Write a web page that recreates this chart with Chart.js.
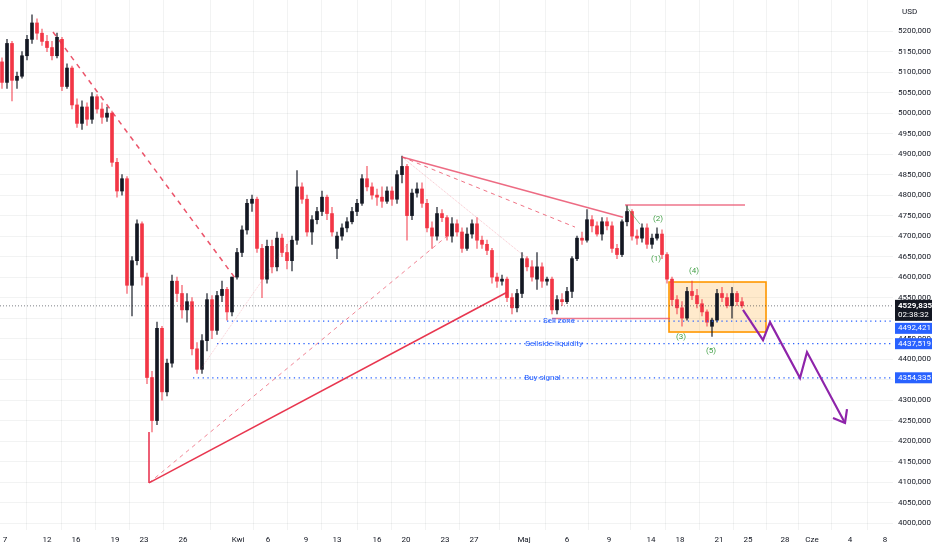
<!DOCTYPE html>
<html>
<head>
<meta charset="utf-8">
<script src="https://cdn.jsdelivr.net/npm/chart.js@4.4.1/dist/chart.umd.min.js"></script>
<style>
  html, body { margin: 0; padding: 0; background: #fff; }
  #wrap { width: 932px; height: 550px; }
</style>
</head>
<body>
<div id="wrap"><canvas id="chart" width="932" height="550"></canvas></div>
<script>
// candles, one per slot (x = slot index)
const opens = [
  5125, 5075, 5170, 5080, 5090, 5140, 5180, 5220, 5195, 5175,
  5160, 5140, 5180, 5065, 5110, 5020, 4975, 5015, 4985, 5040,
  5010, 4990, 5000, 4880, 4810, 4840, 4580, 4640, 4730, 4600,
  4355, 4250, 4475, 4320, 4390, 4590, 4560, 4520, 4540, 4425,
  4375, 4445, 4545, 4470, 4555, 4570, 4515, 4600, 4660, 4715,
  4780, 4790, 4670, 4595, 4675, 4625, 4695, 4660, 4640, 4690,
  4820, 4790, 4710, 4740, 4760, 4795, 4755, 4670, 4700, 4720,
  4735, 4760, 4780, 4840, 4820, 4800, 4795, 4785, 4810, 4790,
  4850, 4870, 4750, 4805, 4815, 4780, 4720, 4700, 4755, 4745,
  4700, 4730, 4710, 4670, 4705, 4730, 4690, 4680, 4665, 4600,
  4590, 4595, 4550, 4525, 4560, 4645, 4625, 4595, 4625, 4590,
  4595, 4520, 4545, 4540, 4565, 4645, 4695, 4690, 4740, 4725,
  4705, 4735, 4725, 4670, 4655, 4735, 4760, 4700, 4695, 4720,
  4680, 4695, 4705, 4655, 4595, 4545, 4525, 4500, 4565, 4555,
  4535, 4515, 4480, 4495, 4560, 4550, 4530, 4560, 4540
];
const highs = [
  5135, 5180, 5175, 5100, 5150, 5190, 5240, 5230, 5205, 5190,
  5175, 5195, 5185, 5120, 5115, 5035, 5030, 5025, 5050, 5045,
  5025, 5015, 5005, 4890, 4850, 4845, 4650, 4740, 4735, 4610,
  4370, 4490, 4480, 4400, 4605, 4600, 4580, 4560, 4550, 4440,
  4460, 4560, 4555, 4565, 4590, 4575, 4600, 4670, 4725, 4790,
  4800, 4795, 4680, 4690, 4690, 4710, 4705, 4680, 4700, 4860,
  4830, 4800, 4750, 4770, 4810, 4800, 4770, 4710, 4730, 4745,
  4770, 4790, 4850, 4870, 4830, 4815, 4820, 4820, 4820, 4860,
  4895, 4875, 4815, 4830, 4830, 4790, 4735, 4770, 4765, 4750,
  4745, 4740, 4720, 4720, 4740, 4745, 4700, 4690, 4670, 4610,
  4605, 4600, 4560, 4570, 4660, 4650, 4640, 4660, 4635, 4600,
  4600, 4555, 4560, 4575, 4650, 4700, 4710, 4765, 4750, 4735,
  4745, 4745, 4735, 4680, 4740, 4775, 4765, 4715, 4730, 4730,
  4705, 4720, 4715, 4660, 4600, 4555, 4540, 4575, 4590, 4570,
  4545, 4520, 4500, 4570, 4575, 4560, 4575, 4565, 4550
];
const lows = [
  5060, 5060, 5030, 5060, 5085, 5130, 5170, 5180, 5165, 5150,
  5130, 5135, 5055, 5060, 5010, 4965, 4960, 4970, 4975, 5000,
  4975, 4980, 4870, 4795, 4800, 4560, 4505, 4630, 4580, 4340,
  4222, 4240, 4300, 4310, 4380, 4540, 4500, 4490, 4410, 4365,
  4365, 4420, 4450, 4460, 4540, 4495, 4505, 4595, 4650, 4705,
  4760, 4660, 4550, 4585, 4610, 4615, 4650, 4620, 4615, 4680,
  4780, 4700, 4680, 4730, 4750, 4740, 4700, 4645, 4690, 4710,
  4730, 4750, 4775, 4810, 4790, 4775, 4770, 4780, 4775, 4780,
  4830, 4690, 4740, 4795, 4770, 4710, 4670, 4690, 4735, 4690,
  4685, 4700, 4660, 4665, 4695, 4670, 4670, 4655, 4585, 4575,
  4580, 4540, 4510, 4515, 4550, 4615, 4590, 4570, 4575, 4580,
  4510, 4510, 4530, 4535, 4550, 4640, 4680, 4685, 4710, 4700,
  4690, 4715, 4660, 4645, 4650, 4725, 4690, 4680, 4685, 4670,
  4670, 4690, 4645, 4585, 4530, 4510, 4480, 4495, 4545, 4525,
  4505, 4480, 4455, 4490, 4540, 4525, 4500, 4530, 4525
];
const closes = [
  5075, 5170, 5080, 5090, 5140, 5180, 5220, 5195, 5175, 5160,
  5140, 5185, 5065, 5110, 5020, 4975, 5015, 4985, 5040, 5010,
  4990, 5000, 4880, 4810, 4840, 4580, 4640, 4730, 4600, 4355,
  4250, 4475, 4320, 4390, 4590, 4560, 4520, 4540, 4425, 4375,
  4445, 4545, 4470, 4555, 4570, 4515, 4600, 4660, 4715, 4780,
  4790, 4670, 4595, 4675, 4625, 4695, 4660, 4640, 4690, 4820,
  4790, 4710, 4740, 4760, 4795, 4755, 4710, 4700, 4720, 4735,
  4760, 4780, 4840, 4820, 4800, 4795, 4785, 4810, 4790, 4850,
  4870, 4750, 4805, 4815, 4780, 4720, 4700, 4755, 4745, 4700,
  4730, 4710, 4670, 4705, 4730, 4690, 4680, 4665, 4600, 4590,
  4595, 4550, 4525, 4560, 4645, 4625, 4600, 4625, 4590, 4595,
  4520, 4545, 4540, 4565, 4645, 4695, 4690, 4740, 4725, 4705,
  4735, 4725, 4670, 4655, 4735, 4760, 4700, 4695, 4720, 4680,
  4695, 4705, 4655, 4595, 4545, 4525, 4500, 4565, 4555, 4535,
  4515, 4490, 4495, 4560, 4550, 4530, 4560, 4540, 4530
];
const lastPrice = 4529.835;
const countdown = '02:38:32';

// axis labels
const dateLabels = ['7', '12', '16', '19', '23', '26', 'Kwi', '6', '9', '13', '16', '20', '23',
  '27', 'Maj', '6', '9', '14', '18', '21', '25', '28', 'Cze', '4', '8'];
const datePos = [0.6, 9, 14.8, 22.6, 28.4, 36.2, 47.2, 53.2, 60.8, 67, 75, 80.8, 88.6,
  94.4, 104.4, 113, 121.4, 129.8, 135.6, 143.4, 149.2, 156.6, 162, 169.6, 176.6];
const priceTicks = [4000, 4050, 4100, 4150, 4200, 4250, 4300, 4350, 4400, 4450, 4500, 4550,
  4600, 4650, 4700, 4750, 4800, 4850, 4900, 4950, 5000, 5050, 5100, 5150, 5200];

// horizontal levels
const levelNames = ['Sell zone', 'Sellside liquidity', 'Buy signal'];
const levelValues = [4492.421, 4437.519, 4354.335];
const levelFrom = [45, 43, 38.2];
const levelTextAt = [111.4, 110.4, 108.1];

// wave count
const waveNames = ['(1)', '(2)', '(3)', '(4)', '(5)'];
const waveX = [130.8, 131.2, 135.8, 138.4, 141.8];
const waveY = [4644, 4741, 4454, 4615, 4420];

// drawings (x in slots, y in price)
const fallLineX = [10.2, 46.6], fallLineY = [5198, 4598];
const riseLineX = [29.4, 101], riseLineY = [4098, 4563];
const pivotLineX = [29.4, 29.4], pivotLineY = [4222, 4098];
const riseDashX = [29.4, 89], riseDashY = [4098, 4700];
const faintAX = [39.6, 57.6], faintAY = [4373, 4690];
const faintBX = [80, 105], faintBY = [4893, 4646];
const topLineX = [80, 124.2], topLineY = [4893, 4746];
const topDashX = [80, 114.6], topDashY = [4893, 4722];
const highLineX = [124.6, 148.6], highLineY = [4776, 4776];
const baseLineX = [110, 133.6], baseLineY = [4499, 4499];
const greenTickX = [124.8, 127.6], greenTickY = [4773, 4729];
const boxX = [133.4, 152.8], boxY = [4466, 4588];
const pathX = [148.2, 152.2, 153.6, 159.6, 161, 168.6];
const pathY = [4520, 4446, 4490, 4354, 4417, 4244];
const arrowX = [166.2, 168.6, 169], arrowY = [4256, 4244, 4278];

const X_MIN = -0.4, X_MAX = 178.2;
const FONT = 'Roboto, "Liberation Sans", sans-serif';
const RED = '#f23645', DARK = '#131722', BLUE = '#2962ff';

const isUp = closes.map((c, i) => c >= opens[i]);

function seg(xs, ys, color, width, dash) {
  return {
    type: 'line',
    data: xs.map((x, i) => ({ x: x, y: ys[i] })),
    borderColor: color,
    borderWidth: width,
    borderDash: dash || [],
    pointRadius: 0,
    fill: false,
    tension: 0,
    order: 1
  };
}

const datasets = [
  {
    type: 'bar',
    data: highs.map((h, i) => ({ x: i, y: [lows[i], h] })),
    backgroundColor: isUp.map(u => u ? 'rgba(19,23,34,0.7)' : 'rgba(242,54,69,0.6)'),
    barThickness: 1,
    grouped: false,
    order: 10
  },
  {
    type: 'bar',
    data: opens.map((o, i) => ({ x: i, y: [o, closes[i]] })),
    backgroundColor: isUp.map(u => u ? DARK : RED),
    barThickness: 3,
    minBarLength: 1,
    grouped: false,
    order: 9
  },
  seg([X_MIN, X_MAX], [lastPrice, lastPrice], 'rgba(19,23,34,0.55)', 1, [1, 2]),
  seg(fallLineX, fallLineY, 'rgba(232,54,80,0.85)', 1.5, [5, 5]),
  seg(riseLineX, riseLineY, '#e8364f', 1.6),
  seg(pivotLineX, pivotLineY, 'rgba(232,54,80,0.8)', 1),
  seg(riseDashX, riseDashY, 'rgba(232,54,80,0.6)', 1, [4, 4]),
  seg(faintAX, faintAY, 'rgba(232,54,80,0.25)', 1, [1, 1]),
  seg(faintBX, faintBY, 'rgba(232,54,80,0.3)', 1, [1, 1]),
  seg(topLineX, topLineY, 'rgba(232,70,100,0.8)', 1.4),
  seg(topDashX, topDashY, 'rgba(232,54,80,0.7)', 1, [4, 4]),
  seg(highLineX, highLineY, 'rgba(232,70,100,0.75)', 1.4),
  seg(baseLineX, baseLineY, 'rgba(232,70,100,0.7)', 1.4),
  seg(greenTickX, greenTickY, 'rgba(67,160,71,0.6)', 1),
  seg(pathX, pathY, '#8e24aa', 2.2),
  seg(arrowX, arrowY, '#8e24aa', 2.2)
];
levelValues.forEach((v, i) => {
  datasets.push(seg([levelFrom[i], X_MAX], [v, v], BLUE, 1.3, [1.3, 3.5]));
});

const fmt = v => v.toFixed(3).replace('.', ',');

// box under candles, texts and price tags on top
const drawings = {
  id: 'drawings',
  beforeDatasetsDraw(chart) {
    const { ctx, scales: { x, y } } = chart;
    const l = x.getPixelForValue(boxX[0]), r = x.getPixelForValue(boxX[1]);
    const t = y.getPixelForValue(boxY[1]), b = y.getPixelForValue(boxY[0]);
    ctx.save();
    ctx.fillStyle = 'rgba(255,152,0,0.2)';
    ctx.fillRect(l, t, r - l, b - t);
    ctx.strokeStyle = '#ff9800';
    ctx.lineWidth = 1.6;
    ctx.strokeRect(l, t, r - l, b - t);
    ctx.restore();
  },
  afterDatasetsDraw(chart) {
    const { ctx, scales: { x, y } } = chart;
    ctx.save();
    ctx.font = '8px ' + FONT;
    ctx.textAlign = 'center';
    ctx.textBaseline = 'middle';
    ctx.fillStyle = BLUE;
    levelNames.forEach((n, i) => {
      ctx.fillText(n, x.getPixelForValue(levelTextAt[i]), y.getPixelForValue(levelValues[i]));
    });
    ctx.fillStyle = '#43a047';
    waveNames.forEach((n, i) => {
      ctx.fillText(n, x.getPixelForValue(waveX[i]), y.getPixelForValue(waveY[i]));
    });
    ctx.restore();
  },
  afterDraw(chart) {
    const { ctx, chartArea, scales: { y } } = chart;
    const left = chartArea.right + 2, w = 37;
    ctx.save();
    ctx.font = '8px ' + FONT;
    ctx.textBaseline = 'middle';
    ctx.textAlign = 'left';
    ctx.fillStyle = DARK;
    ctx.fillText('USD', chartArea.right + 9, 12);
    // last price tag with countdown
    const py = y.getPixelForValue(lastPrice);
    ctx.fillStyle = DARK;
    ctx.fillRect(left, py - 6, w, 21);
    ctx.fillStyle = '#fff';
    ctx.font = 'bold 8px ' + FONT;
    ctx.fillText(fmt(lastPrice), left + 3, py);
    ctx.font = '8px ' + FONT;
    ctx.fillText(countdown, left + 3, py + 9);
    let prevBottom = py + 15;
    levelValues.forEach(v => {
      let top = Math.max(y.getPixelForValue(v) - 5.5, prevBottom + 2);
      ctx.fillStyle = BLUE;
      ctx.fillRect(left, top, w, 11);
      ctx.fillStyle = '#fff';
      ctx.fillText(fmt(v), left + 3, top + 5.5);
      prevBottom = top + 11;
    });
    ctx.restore();
  }
};

new Chart(document.getElementById('chart'), {
  type: 'bar',
  data: { datasets: datasets },
  options: {
    responsive: false,
    animation: false,
    layout: { padding: 0 },
    plugins: {
      legend: { display: false },
      tooltip: { enabled: false }
    },
    scales: {
      x: {
        type: 'linear',
        min: X_MIN,
        max: X_MAX,
        offset: false,
        afterBuildTicks: axis => { axis.ticks = datePos.map(v => ({ value: v })); },
        afterFit: axis => { axis.height = 20; axis.paddingLeft = 0; axis.paddingRight = 0; },
        border: { display: false },
        grid: { color: 'rgba(42,46,57,0.06)', drawTicks: false },
        ticks: {
          autoSkip: false,
          maxRotation: 0,
          padding: 5,
          color: DARK,
          font: { size: 8, family: FONT },
          callback: (v, i) => dateLabels[i]
        }
      },
      y: {
        position: 'right',
        min: 3983,
        max: 5276,
        afterBuildTicks: axis => { axis.ticks = priceTicks.map(v => ({ value: v })); },
        afterFit: axis => { axis.width = 39; axis.paddingTop = 0; axis.paddingBottom = 0; },
        border: { display: false },
        grid: { color: 'rgba(42,46,57,0.06)', drawTicks: false },
        ticks: {
          padding: 5,
          color: DARK,
          font: { size: 8, family: FONT },
          callback: v => fmt(v)
        }
      }
    }
  },
  plugins: [drawings]
});
</script>
</body>
</html>
